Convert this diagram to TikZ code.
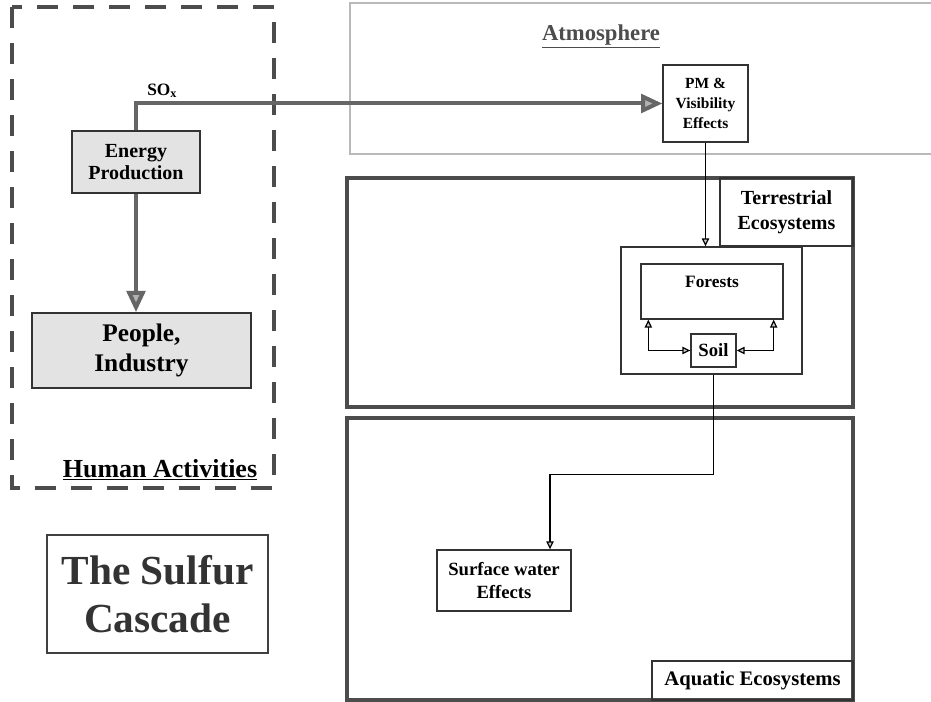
\documentclass[tikz,border=0pt]{standalone}
\usepackage{fontspec}
\setmainfont{Liberation Serif}
\usetikzlibrary{arrows.meta,positioning}

\begin{document}
\begin{tikzpicture}[x=0.75pt, y=-0.75pt,
  box/.style={draw=black!80, line width=1pt, align=center, inner sep=0pt},
  shadedbox/.style={box, fill=gray!22, line width=1.3pt},
  regionframe/.style={draw=black!70, line width=2.5pt},
  thickflow/.style={draw=black!60, line width=3pt,
    -{Triangle[length=16pt,width=14pt,fill=gray!60]}},
  thinflow/.style={draw=black, line width=0.9pt,
    >={Triangle[length=6pt,width=5.5pt,fill=gray!40]}, ->}]
  \useasboundingbox (0,0) rectangle (931,702);
  % Human activities (dashed region)
  \draw[black!70, line width=3pt, dash pattern=on 16pt off 11pt]
    (12,7) rectangle (274,488);
  \node[font=\bfseries\fontsize{19.5}{22}\selectfont, anchor=base]
    (humanlbl) at (160,477) {\underline{Human Activities}};
  \node[shadedbox, minimum width=96pt, minimum height=46.5pt,
    font=\bfseries\fontsize{15}{16.5}\selectfont]
    (energy) at (136,162) {Energy\\Production};
  \node[shadedbox, minimum width=164.25pt, minimum height=56.25pt,
    font=\bfseries\fontsize{19}{22.5}\selectfont]
    (people) at (141.5,350.5) {People,\\Industry};
  % Atmosphere (light region, open to the right)
  \draw[gray!55, line width=1.5pt] (350,3) rectangle (940,154);
  \node[font=\bfseries\fontsize{17}{20}\selectfont, text=black!70, anchor=base]
    (atmlbl) at (601,41) {\underline{Atmosphere}};
  \node[box, minimum width=63.75pt, minimum height=57.75pt,
    font=\bfseries\fontsize{11.6}{15}\selectfont]
    (pm) at (705.5,103.5) {PM \&\\Visibility\\Effects};
  % Terrestrial ecosystems
  \draw[regionframe] (347,178) rectangle (853,407);
  \node[box, minimum width=99.75pt, minimum height=51pt,
    font=\bfseries\fontsize{15}{18.75}\selectfont]
    (terlbl) at (786.5,212) {Terrestrial\\Ecosystems};
  \node[box, minimum width=135.75pt, minimum height=95.25pt]
    (terinner) at (711.5,310.5) {};
  \node[box, minimum width=106.5pt, text height=17.25pt, text depth=24pt,
    font=\bfseries\fontsize{13}{15}\selectfont]
    (forests) at (712,291.5) {Forests};
  \node[box, minimum width=33.75pt, minimum height=24.75pt,
    font=\bfseries\fontsize{14}{16}\selectfont]
    (soil) at (713.5,350.5) {Soil};
  % Aquatic ecosystems
  \draw[regionframe] (347,418) rectangle (853,700);
  \node[box, minimum width=150.75pt, minimum height=29.25pt,
    font=\bfseries\fontsize{15.5}{18}\selectfont]
    (aqlbl) at (752.5,680.5) {Aquatic Ecosystems};
  \node[box, minimum width=100.5pt, minimum height=45.75pt,
    font=\bfseries\fontsize{14}{17}\selectfont]
    (surf) at (504,580.5) {Surface water\\Effects};
  % Title
  \node[draw=black!75, line width=1.2pt, minimum width=165.75pt,
    minimum height=88.5pt, align=center, text=black!80,
    font=\bfseries\fontsize{31}{36}\selectfont]
    (title) at (157.5,594) {The Sulfur\\Cascade};
  % Flows
  \draw[thickflow] (energy.north) |- node[pos=0.5, above right, xshift=6pt,
    yshift=2pt, inner sep=1pt, font=\bfseries\fontsize{13}{15}\selectfont]
    (soxlbl) {SO\textsubscript{x}} (pm.west);
  \draw[thickflow] (energy.south) -- (energy.south |- people.north);
  \draw[thinflow] (pm.south) -- (pm.south |- terinner.north);
  \draw[thinflow, <->] ([xshift=6pt]forests.south west) |- (soil.west);
  \draw[thinflow, <->] ([xshift=-7.5pt]forests.south east) |- (soil.east);
  \coordinate (swin) at ([xshift=34.5pt]surf.north);
  \draw[thinflow] (soil.south |- terinner.south) -- ++(0,100) -| (swin);
\end{tikzpicture}
\end{document}
